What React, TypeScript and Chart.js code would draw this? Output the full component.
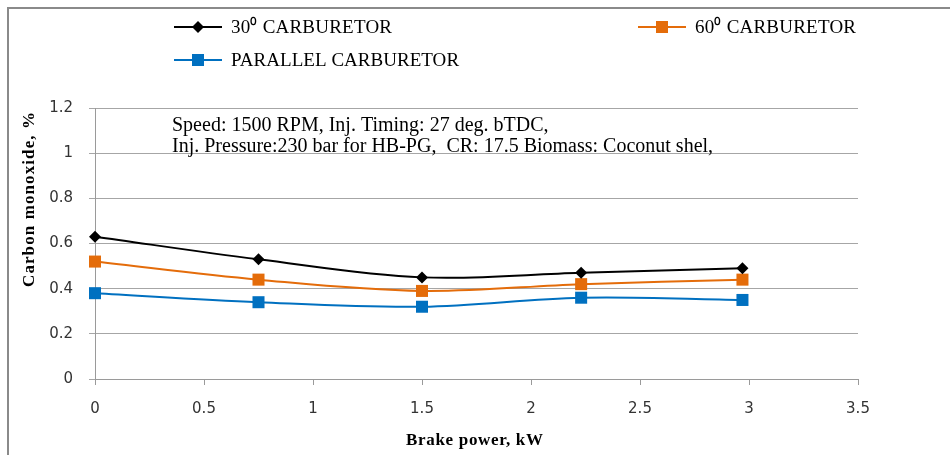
import React, { useEffect, useRef } from "react";
import { Chart, registerables } from "chart.js";

Chart.register(...registerables);

const brakePower = [0, 0.75, 1.5, 2.23, 2.97];
const co30 = [0.63, 0.53, 0.45, 0.47, 0.49];
const co60 = [0.52, 0.44, 0.39, 0.42, 0.44];
const coParallel = [0.38, 0.34, 0.32, 0.36, 0.35];

const seriesLabels = ["30\u2070 CARBURETOR", "60\u2070 CARBURETOR", "PARALLEL CARBURETOR"];
const xTitle = "Brake power, kW";
const yTitle = "Carbon monoxide, %";
const noteLines = [
  "Speed: 1500 RPM, Inj. Timing: 27 deg. bTDC,",
  "Inj. Pressure:230 bar for HB-PG,  CR: 17.5 Biomass: Coconut shel,",
];

const BLACK = "#000000";
const ORANGE = "#E46C0A";
const BLUE = "#0070C0";
const SERIF = "'Liberation Serif', 'Times New Roman', serif";
const TICK_FAMILY = "'DejaVu Sans', sans-serif";

const toPoints = (ys: number[]) => brakePower.map((x, i) => ({ x, y: ys[i] }));

function fitText(ctx: CanvasRenderingContext2D, text: string, x: number, y: number, target: number) {
  const anyCtx = ctx as any;
  anyCtx.letterSpacing = "0px";
  const w = ctx.measureText(text).width;
  const n = Math.max(1, text.length - 1);
  const sp = (target - w) / n;
  anyCtx.letterSpacing = `${sp.toFixed(2)}px`;
  ctx.fillText(text, x, y);
  anyCtx.letterSpacing = "0px";
}

export default function App() {
  const ref = useRef<HTMLCanvasElement | null>(null);

  useEffect(() => {
    if (!ref.current) return;
    const drawMarker = (ctx: CanvasRenderingContext2D, style: string, x: number, y: number, color: string) => {
      ctx.fillStyle = color;
      ctx.beginPath();
      if (style === "diamond") {
        ctx.moveTo(x - 6, y);
        ctx.lineTo(x, y - 6);
        ctx.lineTo(x + 6, y);
        ctx.lineTo(x, y + 6);
        ctx.closePath();
      } else {
        ctx.rect(x - 6, y - 6, 12, 12);
      }
      ctx.fill();
    };
    const textPlugin = {
      id: "texts",
      afterDraw(chart: any) {
        const ctx = chart.ctx as CanvasRenderingContext2D;
        ctx.save();
        const legend = [
          { x: 174, y: 27, color: BLACK, style: "diamond", label: seriesLabels[0], w: 161 },
          { x: 638, y: 27, color: ORANGE, style: "square", label: seriesLabels[1], w: 161 },
          { x: 174, y: 60, color: BLUE, style: "square", label: seriesLabels[2], w: 228 },
        ];
        ctx.font = `19px ${SERIF}`;
        ctx.textBaseline = "middle";
        ctx.textAlign = "left";
        for (const l of legend) {
          ctx.strokeStyle = l.color;
          ctx.lineWidth = 2;
          ctx.beginPath();
          ctx.moveTo(l.x, l.y);
          ctx.lineTo(l.x + 48, l.y);
          ctx.stroke();
          drawMarker(ctx, l.style, l.x + 24, l.y, l.color);
          ctx.fillStyle = "#000";
          fitText(ctx, l.label, l.x + 57, l.y + 1, l.w);
        }
        ctx.font = `20px ${SERIF}`;
        ctx.fillStyle = "#000";
        ctx.textBaseline = "alphabetic";
        ctx.fillText(noteLines[0], 172, 131);
        ctx.fillText(noteLines[1], 172, 152);
        ctx.font = `bold 17px ${SERIF}`;
        ctx.textBaseline = "middle";
        fitText(ctx, xTitle, 406, 441, 137);
        ctx.translate(30, 287);
        ctx.rotate(-Math.PI / 2);
        fitText(ctx, yTitle, 0, 0, 175);
        ctx.restore();
      },
    };

    const mk = (label: string, data: number[], color: string, style: string, radius: number) => ({
      label,
      data: toPoints(data),
      borderColor: color,
      backgroundColor: color,
      borderWidth: 2,
      pointStyle: style,
      pointRadius: radius,
      pointHoverRadius: radius,
      pointBorderWidth: 0,
      tension: 0.35,
      clip: false,
    });

    const tickFont = { family: TICK_FAMILY, size: 15, style: "condensed" as any };

    const chart = new Chart(ref.current, {
      type: "line",
      data: {
        datasets: [
          mk(seriesLabels[0], co30, BLACK, "rectRot", 6),
          mk(seriesLabels[1], co60, ORANGE, "rect", 8.5),
          mk(seriesLabels[2], coParallel, BLUE, "rect", 8.5),
        ],
      },
      options: {
        animation: false,
        responsive: false,
        maintainAspectRatio: false,
        layout: { padding: { top: 108, right: 92, left: 0, bottom: 0 } },
        plugins: { legend: { display: false }, tooltip: { enabled: false } },
        scales: {
          x: {
            type: "linear",
            min: 0,
            max: 3.5,
            afterFit: (s: any) => { s.height = 455 - 379; },
            ticks: {
              stepSize: 0.5,
              padding: 15,
              color: "#333",
              font: tickFont,
              callback: (v: any) => String(v),
            },
            grid: { drawOnChartArea: false, drawTicks: true, tickLength: 6, color: "#9a9a9a" },
            border: { color: "#9a9a9a", width: 1 },
          },
          y: {
            min: 0,
            max: 1.2,
            afterFit: (s: any) => { s.width = 95; },
            ticks: {
              stepSize: 0.2,
              padding: 16,
              color: "#333",
              font: tickFont,
              callback: (v: any) => String(Math.round(v * 10) / 10),
            },
            grid: { color: "#a6a6a6", tickLength: 6, lineWidth: 1 },
            border: { color: "#9a9a9a", width: 1 },
          },
        },
      },
      plugins: [textPlugin],
    } as any);
    return () => chart.destroy();
  }, []);

  return (
    <div style={{ position: "fixed", left: 0, top: 0, width: 950, height: 455, background: "#fff", overflow: "hidden" }}>
      <canvas ref={ref} width={950} height={455} style={{ position: "absolute", left: 0, top: 0 }} />
      <div
        style={{
          position: "absolute",
          left: 7,
          top: 7,
          right: -5,
          bottom: -5,
          borderTop: "2px solid #8a8a8a",
          borderLeft: "2px solid #8a8a8a",
          pointerEvents: "none",
        }}
      />
    </div>
  );
}
